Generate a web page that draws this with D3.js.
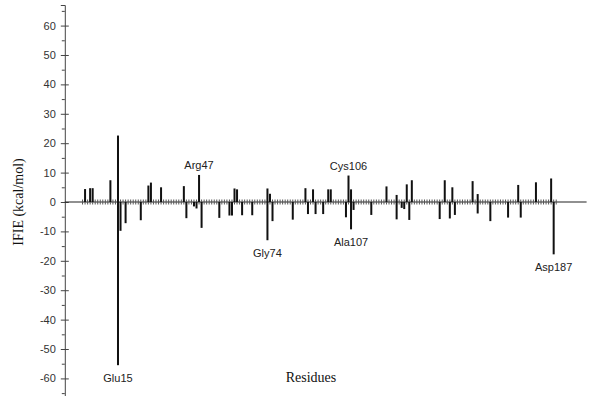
<!DOCTYPE html>
<html>
<head>
<meta charset="utf-8">
<script src="https://cdn.jsdelivr.net/npm/d3@7"></script>
<style>
body { margin: 0; background: #fff; }
.axisLabel { font-family: "Liberation Sans", Arial, sans-serif; font-size: 11px; fill: #333; }
.resLabel { font-family: "Liberation Sans", Arial, sans-serif; font-size: 11px; fill: #222; }
.title { font-family: "Liberation Serif", "Times New Roman", serif; font-size: 14px; fill: #111; }
</style>
</head>
<body>
<div id="chart"></div>
<script>
// IFIE per residue: [residue, kcal/mol]
// a residue can show up twice when it has a bar both above and below zero
var residues = [2, 4, 5, 12, 15, 15, 16, 18, 24, 27, 28, 32,
	41, 42, 45, 46, 47, 48, 55, 59, 60, 61, 62, 64, 68,
	74, 74, 75, 76, 84, 89, 90, 92, 93, 96, 98, 99,
	105, 106, 107, 107, 108, 115, 121, 125, 125, 127, 128, 129, 130, 131,
	142, 144, 146, 147, 148,
	155, 157, 157, 162, 169, 173, 174, 180, 186, 187];
var ifie = [4.4, 4.7, 4.7, 7.4, 22.6, -55.5, -9.8, -7.2, -6.2, 5.6, 6.6, 5.0,
	5.4, -5.5, -1.5, -2.2, 9.2, -8.8, -5.4, -4.6, -4.6, 4.6, 4.3, -4.5, -4.5,
	4.6, -13.0, 2.8, -6.5, -6.0, 4.7, -4.1, 4.3, -4.1, -4.1, 4.3, 4.3,
	-5.2, 9.0, 4.3, -9.3, -2.7, -4.4, 5.3, 2.4, -5.9, -2.0, -2.4, 6.0, -6.1, 7.4,
	-5.8, 7.4, -5.6, 5.0, -4.4,
	7.1, 2.7, -3.9, -6.5, -5.3, 5.8, -5.3, 6.7, 8.0, -17.8];

// labelled residues
var labelNames = ["Glu15", "Arg47", "Gly74", "Cys106", "Ala107", "Asp187"];
var labelResidues = [15, 47, 74, 106, 107, 187];
var labelValues = [-55.5, 9.2, -13.0, 9.0, -9.3, -17.8];

var yTicks = [-60, -50, -40, -30, -20, -10, 0, 10, 20, 30, 40, 50, 60];
var yMinor = [-65, -55, -45, -35, -25, -15, -5, 5, 15, 25, 35, 45, 55, 65];
var numResidues = 188;

var width = 590, height = 396;

var svg = d3.select("#chart").append("svg")
	.attr("width", width)
	.attr("height", height);

var x = d3.scaleLinear().domain([-6, 200]).range([64.8, 586.6]);
var y = d3.scaleLinear().domain([-67, 67]).range([399, 5]);

// y axis, major ticks cross the line
var yAxis = svg.append("g")
	.attr("transform", "translate(" + x(-6) + ",0)")
	.call(d3.axisLeft(y).tickValues(yTicks).tickSize(4).tickPadding(5)
		.tickFormat(function(d){ return String(d); }));
yAxis.select(".domain").attr("stroke", "#444");
yAxis.selectAll(".tick line").attr("x1", 4).attr("x2", -4).attr("stroke", "#444");
yAxis.selectAll(".tick text")
	.attr("class", "axisLabel")
	.attr("font-family", null)
	.attr("font-size", null);

svg.append("g")
	.attr("transform", "translate(" + x(-6) + ",0)")
	.call(d3.axisLeft(y).tickValues(yMinor).tickSize(3).tickFormat(""))
	.call(function(g){ g.select(".domain").remove(); })
	.selectAll(".tick line").attr("stroke", "#444");

// zero line with a tick for every residue
svg.append("line")
	.attr("x1", x(-6)).attr("x2", x(200))
	.attr("y1", y(0)).attr("y2", y(0))
	.attr("stroke", "#222")
	.attr("stroke-width", 1.2);

svg.append("g").selectAll("line")
	.data(d3.range(1, numResidues + 1))
	.enter().append("line")
	.attr("x1", function(d){ return x(d); })
	.attr("x2", function(d){ return x(d); })
	.attr("y1", y(0) - 2.5)
	.attr("y2", y(0) + 2.5)
	.attr("stroke", "#555")
	.attr("stroke-width", 1);

// bars
svg.append("g").selectAll("rect")
	.data(d3.range(residues.length))
	.enter().append("rect")
	.attr("x", function(i){ return x(residues[i]) - 1; })
	.attr("width", 2)
	.attr("y", function(i){ return y(Math.max(ifie[i], 0)); })
	.attr("height", function(i){ return Math.abs(y(ifie[i]) - y(0)); })
	.attr("fill", "#111");

// residue names
svg.append("g").selectAll("text")
	.data(d3.range(labelNames.length))
	.enter().append("text")
	.attr("class", "resLabel")
	.attr("text-anchor", "middle")
	.attr("x", function(i){ return x(labelResidues[i]); })
	.attr("y", function(i){
		if(labelValues[i] > 0)
			return y(labelValues[i]) - 6;
		return y(labelValues[i]) + 17;
	})
	.text(function(i){ return labelNames[i]; });

// axis titles
svg.append("text")
	.attr("class", "title")
	.attr("text-anchor", "middle")
	.attr("transform", "translate(23," + y(0) + ") rotate(-90)")
	.text("IFIE (kcal/mol)");

svg.append("text")
	.attr("class", "title")
	.attr("text-anchor", "middle")
	.attr("x", 311)
	.attr("y", 382)
	.text("Residues");
</script>
</body>
</html>
